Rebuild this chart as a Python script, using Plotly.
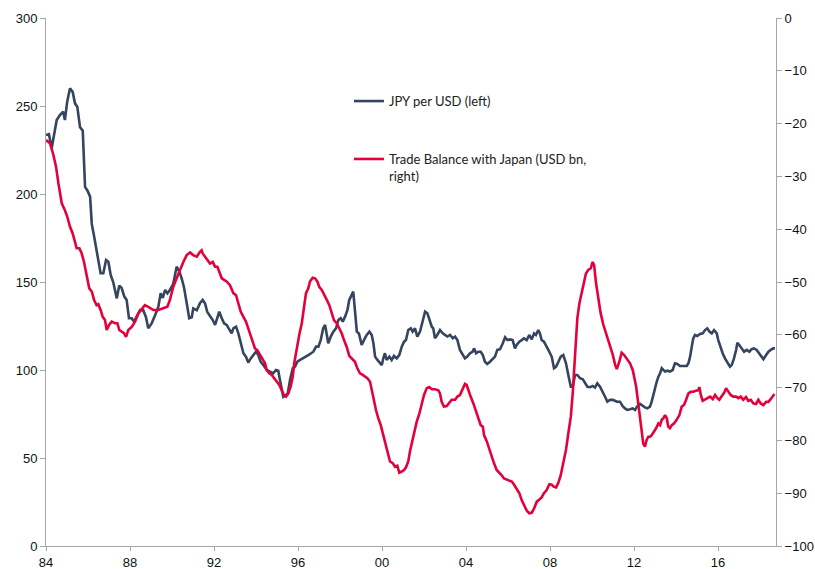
import plotly.graph_objects as go

# JPY per USD (left axis)
jpy_year = [1984.00,1984.14,1984.27,1984.51,1984.67,1984.82,1984.90,1985.01,1985.14,1985.27,1985.38,1985.49,1985.62,1985.75,1985.86,1985.97,1986.10,1986.18,1986.29,1986.41,1986.60,1986.73,1986.86,1986.97,1987.08,1987.20,1987.37,1987.49,1987.60,1987.73,1987.84,1987.95,1988.08,1988.19,1988.32,1988.48,1988.63,1988.76,1988.87,1989.03,1989.19,1989.35,1989.46,1989.56,1989.67,1989.78,1989.90,1990.06,1990.22,1990.35,1990.46,1990.57,1990.70,1990.82,1990.94,1991.01,1991.18,1991.33,1991.46,1991.57,1991.68,1991.81,1991.94,1992.05,1992.16,1992.25,1992.37,1992.48,1992.60,1992.73,1992.84,1992.92,1993.05,1993.16,1993.27,1993.40,1993.52,1993.63,1993.75,1993.87,1994.00,1994.11,1994.22,1994.35,1994.51,1994.67,1994.82,1994.95,1995.06,1995.14,1995.22,1995.30,1995.43,1995.51,1995.62,1995.75,1995.86,1995.97,1996.10,1996.25,1996.38,1996.49,1996.62,1996.73,1996.86,1996.97,1997.08,1997.20,1997.29,1997.37,1997.44,1997.56,1997.68,1997.81,1997.92,1998.03,1998.13,1998.24,1998.35,1998.44,1998.56,1998.63,1998.71,1998.80,1998.90,1999.03,1999.14,1999.27,1999.40,1999.51,1999.59,1999.67,1999.78,1999.87,1999.99,2000.06,2000.14,2000.22,2000.35,2000.46,2000.57,2000.70,2000.82,2000.94,2001.05,2001.14,2001.25,2001.37,2001.46,2001.57,2001.68,2001.81,2001.94,2002.05,2002.16,2002.25,2002.37,2002.44,2002.52,2002.63,2002.76,2002.89,2003.00,2003.11,2003.24,2003.37,2003.48,2003.59,2003.71,2003.84,2003.95,2004.06,2004.19,2004.32,2004.38,2004.48,2004.59,2004.70,2004.80,2004.90,2005.01,2005.14,2005.27,2005.38,2005.49,2005.62,2005.75,2005.86,2005.97,2006.10,2006.22,2006.33,2006.41,2006.54,2006.65,2006.76,2006.89,2007.01,2007.13,2007.24,2007.33,2007.44,2007.52,2007.60,2007.71,2007.81,2007.92,2008.00,2008.08,2008.19,2008.29,2008.40,2008.51,2008.63,2008.76,2008.87,2008.99,2009.08,2009.19,2009.30,2009.43,2009.56,2009.67,2009.78,2009.90,2010.03,2010.14,2010.25,2010.38,2010.51,2010.62,2010.73,2010.86,2010.99,2011.10,2011.20,2011.33,2011.46,2011.57,2011.68,2011.81,2011.94,2012.05,2012.16,2012.29,2012.41,2012.52,2012.63,2012.76,2012.84,2012.92,2013.00,2013.08,2013.16,2013.24,2013.32,2013.40,2013.48,2013.59,2013.71,2013.84,2013.95,2014.06,2014.19,2014.35,2014.51,2014.59,2014.67,2014.75,2014.82,2014.90,2015.01,2015.14,2015.27,2015.38,2015.49,2015.59,2015.70,2015.81,2015.94,2016.01,2016.10,2016.22,2016.33,2016.44,2016.57,2016.65,2016.76,2016.86,2016.92,2017.01,2017.13,2017.24,2017.37,2017.49,2017.60,2017.71,2017.84,2017.97,2018.08,2018.16,2018.29,2018.40,2018.51,2018.63,2018.71]
jpy_value = [233.5,234,226,242,245,246.8,242,252.5,260,258,251.5,249.6,238,236,204,202,198.5,183,176,167,155,155,162.5,161.5,154,150,140.7,148,146.6,141.7,139.8,129.4,129.4,127.5,130.3,134,134,130,123.7,126.5,131,136,143.6,141,145.5,143.6,145.5,149,158.7,156,152,147,138,129.4,129.9,135,134,138,139.8,137.9,133,131,128.4,125.6,130.3,133.1,129.4,126.5,125.6,122.7,120.8,123.7,124.6,120.8,115.2,109.5,107.6,104.2,106.6,108.5,110.4,108.5,104.7,102.8,100,99.1,98.1,100,99.6,94.3,89.6,84.8,85.8,86.7,94.3,101,101.9,104.7,105.7,106.6,107.6,108.5,109.5,110.4,113.3,113.3,117,123.7,125.6,119,115.2,119,121.8,123.7,128.4,129.4,127.5,130.3,134,139.8,142.6,144.5,134,121.8,120.8,114.2,117,119.9,121.8,119.9,115.2,107.6,105.7,104.7,102.8,106.6,109.5,105.7,107.6,105.7,108,106.6,108.5,113.3,116.1,117,122.7,123.7,121.8,123.7,119,121.8,127.5,133.1,132.2,128.4,124.6,123.7,118,119.9,122.7,120.8,119.9,119,119.9,118,119,117,111.4,108.5,106.6,107.6,109.5,110.4,112.3,109.5,110.4,110.4,108.5,104.7,103.4,104.7,106.1,107.6,111.4,111.8,115.2,118.6,117,117.4,117,112.3,114.2,116.1,117,118,117,119.9,117.4,120.8,119.9,122.7,120.8,117,116.1,114.2,111.4,109.5,107.6,101,101.9,104.7,107.6,108.5,103.8,97.2,90.5,90.5,97.2,97.2,95.3,94.7,92.4,90.5,90.2,90.9,90,92.4,90.5,87.7,84.8,82,83,83,82.6,82,82,79.5,78.2,77.3,77.7,78.2,77.3,79.5,80.7,79.5,78.8,78.2,79.2,82,85.8,90.5,93.3,96.2,98.1,101,100,99.1,99.6,99.1,100,103.8,103.4,102.3,102.3,102.3,103.8,107.6,113.3,118,119.9,119.3,120.5,120.8,122.7,123.7,121.8,120.8,122.7,120.8,117,113.3,109.5,106.6,104.7,101.9,102.8,106.6,111.4,115.5,114.2,112.3,110.4,111.4,110.4,111.8,112.3,111.4,109.5,107.6,106.1,108.5,110.4,111.4,112.3,112.3]

# Trade balance with Japan, USD bn (right axis)
tb_year = [1984.00,1984.19,1984.35,1984.48,1984.59,1984.75,1984.90,1985.01,1985.14,1985.27,1985.38,1985.46,1985.59,1985.70,1985.81,1985.94,1986.06,1986.18,1986.29,1986.41,1986.49,1986.60,1986.70,1986.81,1986.89,1987.01,1987.13,1987.29,1987.40,1987.49,1987.60,1987.71,1987.81,1987.92,1988.08,1988.24,1988.40,1988.56,1988.71,1988.87,1989.11,1989.35,1989.59,1989.78,1989.90,1990.06,1990.22,1990.38,1990.54,1990.70,1990.86,1991.01,1991.18,1991.33,1991.41,1991.46,1991.57,1991.68,1991.81,1991.94,1992.05,1992.16,1992.25,1992.37,1992.48,1992.60,1992.76,1992.84,1992.92,1993.05,1993.16,1993.27,1993.40,1993.52,1993.63,1993.75,1993.84,1993.95,1994.06,1994.19,1994.32,1994.43,1994.51,1994.63,1994.75,1994.86,1994.99,1995.11,1995.22,1995.33,1995.43,1995.54,1995.65,1995.75,1995.82,1995.94,1996.06,1996.18,1996.29,1996.38,1996.49,1996.57,1996.70,1996.81,1996.92,1997.01,1997.13,1997.24,1997.37,1997.49,1997.60,1997.71,1997.84,1997.97,1998.08,1998.19,1998.32,1998.44,1998.60,1998.71,1998.82,1998.95,1999.08,1999.19,1999.30,1999.43,1999.51,1999.59,1999.71,1999.82,1999.94,2000.06,2000.19,2000.30,2000.38,2000.51,2000.62,2000.73,2000.82,2000.94,2001.05,2001.14,2001.25,2001.33,2001.41,2001.52,2001.65,2001.78,2001.89,2002.00,2002.13,2002.25,2002.37,2002.52,2002.68,2002.76,2002.84,2002.95,2003.08,2003.20,2003.32,2003.48,2003.59,2003.71,2003.82,2003.95,2004.03,2004.11,2004.22,2004.35,2004.48,2004.59,2004.70,2004.80,2004.86,2004.99,2005.11,2005.22,2005.33,2005.46,2005.59,2005.70,2005.81,2005.94,2006.06,2006.18,2006.29,2006.41,2006.54,2006.65,2006.76,2006.89,2007.01,2007.13,2007.24,2007.37,2007.49,2007.60,2007.71,2007.84,2007.97,2008.08,2008.19,2008.29,2008.40,2008.51,2008.63,2008.76,2008.87,2008.99,2009.08,2009.16,2009.24,2009.30,2009.40,2009.51,2009.62,2009.71,2009.82,2009.94,2010.03,2010.10,2010.19,2010.30,2010.41,2010.54,2010.67,2010.78,2010.89,2010.99,2011.10,2011.18,2011.30,2011.41,2011.52,2011.65,2011.81,2011.94,2012.00,2012.10,2012.20,2012.29,2012.37,2012.44,2012.52,2012.60,2012.68,2012.76,2012.84,2012.95,2013.05,2013.16,2013.24,2013.32,2013.40,2013.48,2013.56,2013.63,2013.71,2013.80,2013.90,2014.03,2014.16,2014.27,2014.38,2014.48,2014.59,2014.70,2014.82,2014.95,2015.06,2015.11,2015.18,2015.27,2015.38,2015.49,2015.62,2015.75,2015.86,2015.97,2016.06,2016.18,2016.29,2016.38,2016.49,2016.60,2016.73,2016.86,2016.97,2017.08,2017.20,2017.33,2017.44,2017.56,2017.68,2017.81,2017.92,2018.03,2018.16,2018.29,2018.40,2018.51,2018.60,2018.68]
tb_value = [-23.1,-23.7,-25.9,-28.2,-31.3,-35.1,-36.4,-37.6,-39.5,-40.8,-42.4,-43.6,-43.6,-44.6,-46.2,-49.0,-51.2,-51.8,-53.4,-54.4,-54.2,-55.3,-56.6,-57.2,-59.1,-58.1,-57.5,-57.8,-57.8,-59.1,-59.4,-59.7,-60.4,-59.1,-58.5,-57.5,-55.9,-55.0,-54.4,-54.7,-55.3,-55.3,-55.0,-54.7,-53.4,-50.9,-49.3,-47.7,-46.2,-44.9,-44.4,-44.9,-45.2,-44.3,-44.0,-44.6,-45.2,-45.8,-46.5,-46.2,-47.1,-47.1,-48.0,-49.3,-49.6,-49.9,-50.6,-51.5,-52.1,-52.5,-54.0,-55.6,-56.6,-57.5,-58.8,-60.4,-61.6,-62.6,-62.9,-63.8,-64.5,-65.4,-66.7,-67.3,-67.6,-68.2,-68.9,-69.5,-70.5,-71.4,-71.7,-71.1,-69.8,-67.9,-65.4,-62.3,-60.0,-57.8,-54.7,-52.1,-51.2,-49.9,-49.2,-49.3,-49.9,-50.9,-51.5,-52.5,-53.4,-54.4,-55.6,-57.2,-57.8,-58.8,-59.7,-61.0,-62.3,-64.0,-64.6,-65.1,-66.3,-67.3,-67.6,-67.9,-68.2,-68.9,-70.5,-72.3,-74.2,-75.8,-77.1,-79.0,-80.9,-82.4,-84.0,-84.3,-85.0,-84.8,-86.1,-85.9,-85.6,-85.1,-84.0,-82.1,-80.6,-78.4,-76.5,-74.9,-73.0,-71.4,-70.1,-69.9,-70.3,-70.3,-70.5,-71.1,-72.7,-73.6,-73.5,-73.0,-72.3,-72.3,-71.7,-71.4,-70.5,-69.3,-69.5,-70.5,-71.7,-73.0,-74.6,-76.1,-77.1,-77.4,-79.0,-80.2,-81.8,-83.1,-84.3,-85.6,-86.1,-86.6,-87.2,-87.4,-87.5,-87.8,-88.4,-89.1,-90.0,-91.3,-92.2,-93.3,-93.8,-93.7,-92.9,-91.6,-91.2,-90.8,-90.0,-89.4,-88.3,-88.4,-88.8,-88.9,-88.0,-86.6,-84.3,-81.8,-78.7,-75.5,-71.1,-66.0,-61.0,-56.9,-54.0,-52.1,-50.2,-48.4,-47.7,-47.4,-46.2,-46.8,-50.2,-53.4,-55.9,-58.1,-59.7,-61.3,-62.3,-63.8,-65.7,-66.5,-65.1,-63.4,-63.8,-64.6,-65.4,-66.7,-67.9,-69.8,-73.0,-76.1,-78.7,-80.6,-81.2,-79.9,-79.3,-79.3,-79.0,-78.4,-77.7,-76.8,-77.1,-76.1,-75.8,-75.2,-75.8,-77.4,-77.7,-77.1,-76.8,-76.1,-75.2,-73.6,-73.3,-72.3,-71.1,-70.8,-70.8,-70.6,-70.5,-69.9,-71.4,-72.5,-72.2,-72.0,-71.7,-72.2,-71.4,-72.0,-72.3,-71.6,-71.0,-70.1,-70.8,-71.4,-71.7,-71.7,-72.0,-71.7,-72.3,-71.8,-72.5,-72.3,-73.0,-73.1,-72.3,-73.0,-73.3,-72.7,-72.7,-72.2,-71.7,-71.2]

x_tick_vals = [1984, 1988, 1992, 1996, 2000, 2004, 2008, 2012, 2016]
x_tick_text = ["84", "88", "92", "96", "00", "04", "08", "12", "16"]

BLUE = "#35445f"
RED = "#e4003b"
AXIS = "#a6a6a6"
TICKFONT = dict(family="Liberation Sans, Arial, sans-serif", size=13, color="#111111")

fig = go.Figure()
fig.add_trace(go.Scatter(x=jpy_year, y=jpy_value, mode="lines", name="JPY per USD (left)",
                         line=dict(color=BLUE, width=2.6), yaxis="y", legendgroup="a"))
fig.add_trace(go.Scatter(x=tb_year, y=tb_value, mode="lines",
                         name="Trade Balance with Japan (USD bn,<br>right)",
                         line=dict(color=RED, width=2.6), yaxis="y2", legendgroup="b"))

fig.update_layout(
    width=815, height=569,
    margin=dict(l=46, r=39, t=18, b=23, autoexpand=False),
    paper_bgcolor="white", plot_bgcolor="white",
    showlegend=True,
    legend=dict(x=0.415, y=0.871, xanchor="left", yanchor="top",
                bgcolor="rgba(0,0,0,0)", borderwidth=0,
                font=dict(family="Lato, Open Sans, sans-serif", size=13, color="#222222"),
                tracegroupgap=38, valign="top", itemwidth=30,
                traceorder="grouped"),
    xaxis=dict(range=[1984, 2018.76], tickmode="array", tickvals=x_tick_vals, ticktext=x_tick_text,
               showgrid=False, zeroline=False, showline=True, linecolor=AXIS, linewidth=1,
               ticks="outside", ticklen=4, tickcolor=AXIS, tickfont=TICKFONT, automargin=False),
    yaxis=dict(range=[0, 300], dtick=50, showgrid=False, zeroline=False, showline=True,
               linecolor=AXIS, linewidth=1, ticks="outside", ticklen=5, tickcolor=AXIS,
               tickfont=TICKFONT, automargin=False),
    yaxis2=dict(range=[-100, 0], dtick=10, overlaying="y", side="right", showgrid=False,
                zeroline=False, showline=True, linecolor=AXIS, linewidth=1, ticks="outside",
                ticklen=5, tickcolor=AXIS, tickfont=TICKFONT, automargin=False),
)

fig.write_html("out.html", config={"displayModeBar": False},
               post_script="document.body.style.margin='0';document.body.style.overflow='hidden';")
